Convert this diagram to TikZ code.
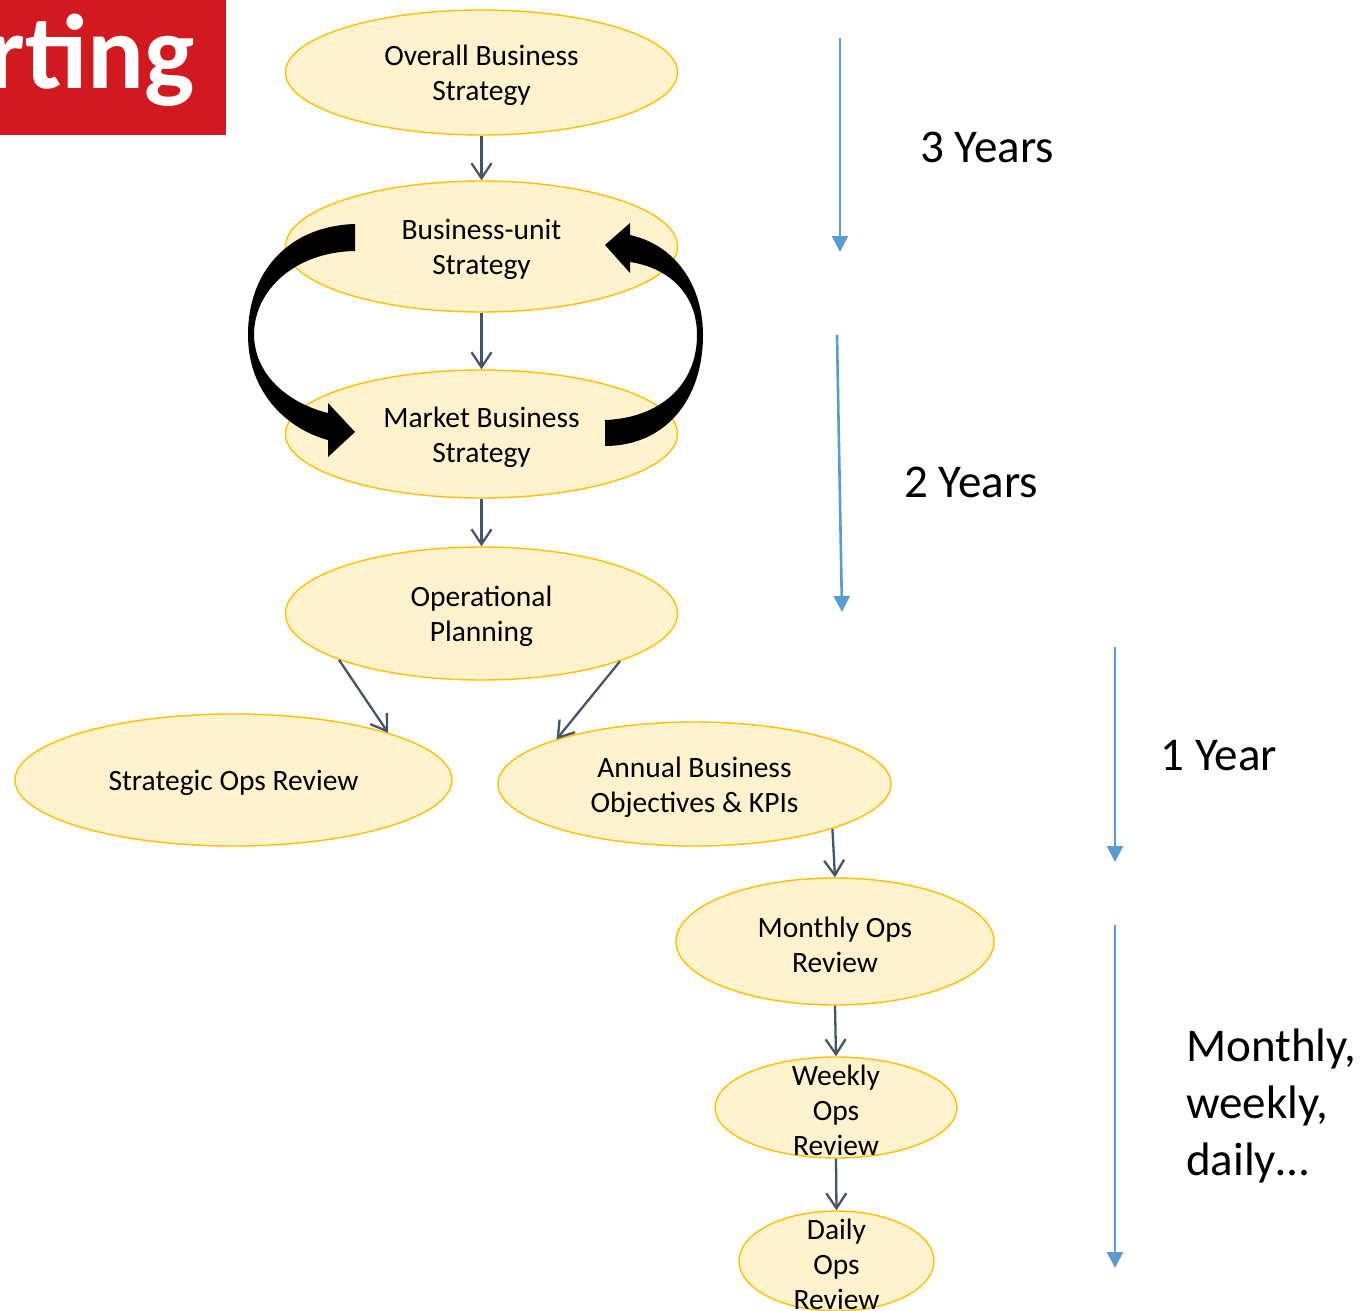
\documentclass[tikz,border=0pt]{standalone}
\usepackage{fontspec}
\setmainfont{Carlito}
\usetikzlibrary{arrows.meta,shapes.geometric}
\definecolor{ovalfill}{HTML}{FFF2CC}
\definecolor{ovalline}{HTML}{FFC000}
\definecolor{flowgray}{HTML}{44546A}
\definecolor{spanblue}{HTML}{5B9BD5}
\definecolor{bannerred}{RGB}{210,25,31}

\begin{document}
\begin{tikzpicture}[x=1pt,y=-1pt,
  oval/.style={ellipse, draw=ovalline, fill=ovalfill, line width=1.4pt, inner sep=0pt},
  lbl/.style={align=center, font=\fontsize{29.5}{35}\selectfont, inner sep=0pt, yshift=-3pt},
  big/.style={font=\fontsize{47}{57}\selectfont, inner sep=0pt},
  flow/.style={draw=flowgray, line width=2.3pt, -{Straight Barb[length=15pt,width=20pt]}},
  span/.style={draw=spanblue, line width=2.6pt, -{Triangle[length=16pt,width=16pt]}},
  loop/.style={fill=black}
]
\useasboundingbox (0,0) rectangle (1363,1311);

% title banner, cut at the left edge
\begin{scope}
  \clip (0,0) rectangle (226,135);
  \fill[bannerred] (0,0) rectangle (226,135);
  \node[anchor=base east, text=white, font=\fontsize{106}{106}\selectfont\bfseries, inner sep=0pt] (banner) at (195,89) {rting};
\end{scope}

% planning levels
\node[oval, minimum width=392pt, minimum height=125pt] (obs) at (481.5,72.5) {};
\node[oval, minimum width=392pt, minimum height=131pt] (bus) at (481.5,246.5) {};
\node[oval, minimum width=392pt, minimum height=128pt] (mbs) at (481.5,434) {};
\node[oval, minimum width=392pt, minimum height=133pt] (opp) at (481.5,613.5) {};
\node[oval, minimum width=437pt, minimum height=132pt] (sor) at (233.5,780) {};
\node[oval, minimum width=393pt, minimum height=124pt] (abo) at (694.5,784) {};
\node[oval, minimum width=318pt, minimum height=127pt] (mor) at (835,941.5) {};
\node[oval, minimum width=242pt, minimum height=101pt] (wor) at (836,1107.5) {};
\node[oval, minimum width=195pt, minimum height=100pt] (dor) at (836.5,1261) {};

% feedback loop between business-unit and market strategy
\fill[loop] (355,224) .. controls (290,226) and (248,270) .. (248,335)
  .. controls (248,395) and (290,430) .. (328,440) -- (328,457) -- (355,432)
  -- (328,403) -- (328,413) .. controls (295,405) and (255,380) .. (254,335)
  .. controls (254,290) and (295,252) .. (355,251) -- cycle;
\fill[loop] (605,420) .. controls (660,418) and (697,385) .. (697,335)
  .. controls (697,295) and (670,268) .. (630,262) -- (630,273) -- (605,245)
  -- (630,223) -- (630,235) .. controls (675,245) and (703,285) .. (703,335)
  .. controls (703,400) and (665,446) .. (605,446) -- cycle;

% labels
\node[lbl] (obs-t) at (obs) {Overall Business\\Strategy};
\node[lbl] (bus-t) at (bus) {Business-unit\\Strategy};
\node[lbl] (mbs-t) at (mbs) {Market Business\\Strategy};
\node[lbl] (opp-t) at (opp) {Operational\\Planning};
\node[lbl] (sor-t) at (sor) {Strategic Ops Review};
\node[lbl] (abo-t) at (abo) {Annual Business\\Objectives \& KPIs};
\node[lbl] (mor-t) at (mor) {Monthly Ops\\Review};
\node[lbl] (wor-t) at (wor) {Weekly\\Ops\\Review};
\node[lbl] (dor-t) at (dor) {Daily\\Ops\\Review};

% cascade
\draw[flow] (obs.south) -- (bus.north);
\draw[flow] (bus.south) -- (mbs.north);
\draw[flow] (mbs.south) -- (opp.north);
\draw[flow] (opp.198.4) -- (sor.17);
\draw[flow] (opp.341.3) -- (abo.162);
\draw[flow] (abo.342.4) -- (mor.north);
\draw[flow] (mor.south) -- (wor.north);
\draw[flow] (wor.south) -- (dor.north);

% time horizons
\coordinate (h1a) at (840,38);   \coordinate (h1b) at (840,252);
\coordinate (h2a) at (837,335);  \coordinate (h2b) at (842,612);
\coordinate (h3a) at (1115,647); \coordinate (h3b) at (1115,862);
\coordinate (h4a) at (1115,925); \coordinate (h4b) at (1115,1268);
\draw[span] (h1a) -- (h1b);
\draw[span] (h2a) -- (h2b);
\draw[span] (h3a) -- (h3b);
\draw[span] (h4a) -- (h4b);

\node[big] (y3) at (987,147) {3 Years};
\node[big] (y2) at (971,482) {2 Years};
\node[big] (y1) at (1219,756) {1 Year};
\node[big, anchor=west, align=left] (ymwd) at (1186,1106) {Monthly,\\weekly,\\daily…};
\end{tikzpicture}
\end{document}
